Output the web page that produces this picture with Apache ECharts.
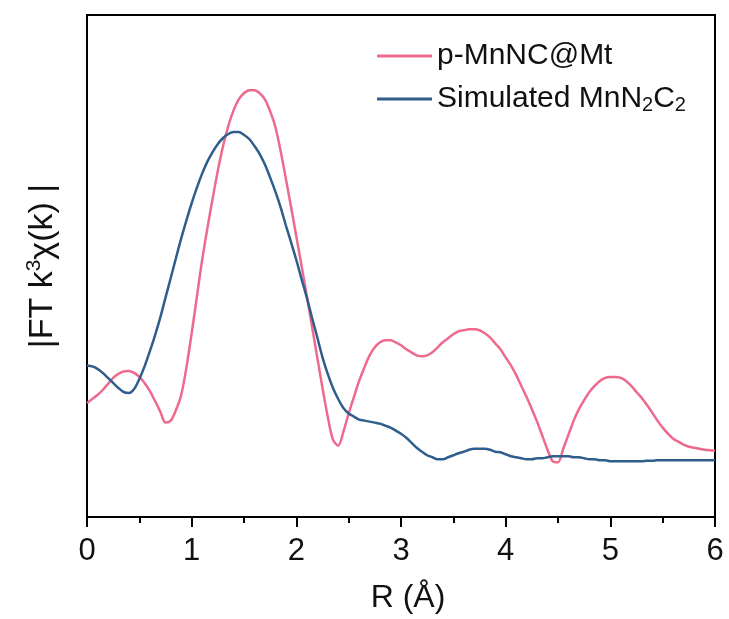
<!DOCTYPE html>
<html>
<head>
<meta charset="utf-8">
<script src="https://cdn.jsdelivr.net/npm/echarts@6/dist/echarts.min.js"></script>
<style>html,body{margin:0;padding:0;background:#fff;}#c{width:729px;height:619px;}</style>
</head>
<body>
<div id="c"></div>
<script>
var rValues = [0.00,0.05,0.10,0.15,0.20,0.25,0.30,0.35,0.40,0.45,
               0.50,0.55,0.60,0.65,0.70,0.75,0.80,0.85,0.90,0.95,
               1.00,1.05,1.10,1.15,1.20,1.25,1.30,1.35,1.40,1.45,
               1.50,1.55,1.60,1.65,1.70,1.75,1.80,1.85,1.90,1.95,
               2.00,2.05,2.10,2.15,2.20,2.25,2.30,2.35,2.40,2.45,
               2.50,2.55,2.60,2.65,2.70,2.75,2.80,2.85,2.90,2.95,
               3.00,3.05,3.10,3.15,3.20,3.25,3.30,3.35,3.40,3.45,
               3.50,3.55,3.60,3.65,3.70,3.75,3.80,3.85,3.90,3.95,
               4.00,4.05,4.10,4.15,4.20,4.25,4.30,4.35,4.40,4.45,
               4.50,4.55,4.60,4.65,4.70,4.75,4.80,4.85,4.90,4.95,
               5.00,5.05,5.10,5.15,5.20,5.25,5.30,5.35,5.40,5.45,
               5.50,5.55,5.60,5.65,5.70,5.75,5.80,5.85,5.90,5.95,
               6.00];
var pinkY = [22.7,23.5,24.3,25.3,26.5,27.7,28.5,29.0,29.1,28.7,
             27.9,26.7,25.1,23.1,21.0,18.8,19.2,21.3,24.3,29.8,
             36.6,43.9,51.2,57.5,63.4,69.0,73.9,77.9,81.0,83.2,
             84.4,85.0,85.0,84.4,83.2,80.8,77.7,72.9,67.4,61.7,
             55.9,50.0,44.1,37.9,31.8,25.7,20.0,15.4,14.2,17.0,
             20.6,23.9,27.1,29.8,32.2,33.8,34.8,35.2,35.2,34.8,
             34.2,33.4,32.8,32.2,32.0,32.2,32.8,33.8,34.8,35.6,
             36.4,37.0,37.2,37.4,37.4,37.2,36.6,35.8,34.6,33.4,
             31.8,30.2,28.3,26.1,23.9,21.5,19.0,16.2,13.4,11.1,
             10.9,13.6,16.4,19.2,21.5,23.3,24.9,26.1,27.1,27.7,
             27.9,27.9,27.7,27.1,26.1,24.9,23.7,22.3,20.8,19.2,
             17.8,16.6,15.6,15.0,14.4,14.0,13.8,13.6,13.4,13.3,
             13.2];
var blueY = [30.2,30.0,29.5,28.7,27.7,26.7,25.7,24.9,24.7,25.5,
             27.5,30.0,33.0,36.2,39.7,43.7,47.6,51.6,55.5,59.1,
             62.5,65.6,68.4,70.8,72.7,74.3,75.5,76.3,76.7,76.7,
             76.1,75.3,73.9,72.3,70.2,67.6,64.8,61.7,58.1,54.7,
             51.2,47.4,43.7,39.7,35.8,31.8,28.5,25.7,23.5,21.7,
             20.6,20.0,19.4,19.2,19.0,18.8,18.6,18.2,17.8,17.2,
             16.6,15.8,14.8,13.8,13.0,12.3,11.9,11.5,11.5,11.9,
             12.3,12.7,13.0,13.4,13.6,13.6,13.6,13.4,13.0,12.9,
             12.5,12.1,11.9,11.7,11.5,11.5,11.7,11.7,11.9,12.1,
             12.1,12.1,12.1,11.9,11.9,11.7,11.5,11.5,11.3,11.3,
             11.1,11.1,11.1,11.1,11.1,11.1,11.1,11.2,11.2,11.3,
             11.3,11.3,11.3,11.3,11.3,11.3,11.3,11.3,11.3,11.3,
             11.3];
var seriesNames = ['p-MnNC@Mt', 'Simulated MnN2C2'];

function pairs(xs, ys) { return xs.map(function (x, i) { return [x, ys[i]]; }); }

var FONT = 'Liberation Sans, Arial, sans-serif';
var chart = echarts.init(document.getElementById('c'), null, {renderer: 'canvas'});
chart.setOption({
  animation: false,
  backgroundColor: '#fff',
  grid: {left: 87, right: 14, top: 15, bottom: 97, show: true, borderColor: '#000', borderWidth: 2, containLabel: false},
  legend: {
    orient: 'vertical', left: 377, top: 41, padding: 0, itemWidth: 55, itemHeight: 3, itemGap: 13, icon: 'rect',
    textStyle: {fontFamily: FONT, fontSize: 30, color: '#111',
      rich: {sub: {fontFamily: FONT, fontSize: 20, color: '#111', padding: [12, 0, 0, 0]}}},
    formatter: function (n) { return n === 'Simulated MnN2C2' ? 'Simulated MnN{sub|2}C{sub|2}' : n; },
    data: seriesNames
  },
  xAxis: {
    type: 'value', min: 0, max: 6, interval: 1,
    name: 'R (Å)', nameLocation: 'middle', nameGap: 65,
    nameTextStyle: {fontFamily: FONT, fontSize: 32, color: '#111', padding: [0, 0, 0, 14]},
    axisLine: {show: true, lineStyle: {color: '#000', width: 2}},
    axisTick: {show: true, inside: false, length: 10, lineStyle: {color: '#000', width: 2}},
    minorTick: {show: true, splitNumber: 2, length: 6, lineStyle: {color: '#000', width: 2}},
    axisLabel: {fontFamily: FONT, fontSize: 31, color: '#111', margin: 19},
    splitLine: {show: false}
  },
  yAxis: {
    type: 'value', min: 0, max: 100,
    name: '|FT k{sup|3}χ(k) |', nameLocation: 'middle', nameGap: 26, nameRotate: 90,
    nameTextStyle: {fontFamily: FONT, fontSize: 34, color: '#111',
      rich: {sup: {fontFamily: FONT, fontSize: 21, color: '#111', padding: [0, 0, 16, 0]}}},
    axisLine: {show: true, lineStyle: {color: '#000', width: 2}},
    axisTick: {show: false}, axisLabel: {show: false}, splitLine: {show: false}
  },
  series: [
    {name: seriesNames[0], type: 'line', smooth: 0.3, showSymbol: false, symbol: 'none',
     lineStyle: {color: '#EE6A8D', width: 2.5}, itemStyle: {color: '#EE6A8D'}, data: pairs(rValues, pinkY)},
    {name: seriesNames[1], type: 'line', smooth: 0.3, showSymbol: false, symbol: 'none',
     lineStyle: {color: '#2F5D8C', width: 2.5}, itemStyle: {color: '#2F5D8C'}, data: pairs(rValues, blueY)}
  ]
});
</script>
</body>
</html>
